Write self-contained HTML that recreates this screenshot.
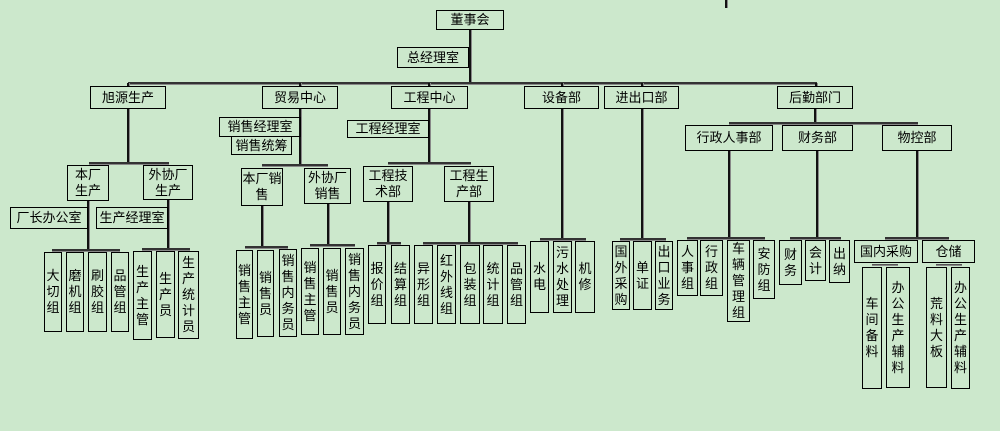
<!DOCTYPE html>
<html><head><meta charset="utf-8"><style>
body{margin:0}
#c{position:relative;width:1000px;height:431px;background:#cce8cc;overflow:hidden;font-family:"Liberation Sans","Noto Sans CJK SC","WenQuanYi Zen Hei",sans-serif;color:#000}
.b{position:absolute;border:1px solid #000;box-sizing:border-box;display:flex;align-items:center;justify-content:center;text-align:center;font-size:13px;line-height:16px;padding:0;white-space:nowrap}
.h{position:absolute;height:2px;background:#333;border-bottom:1px solid #888}
.v{position:absolute;width:2px;background:#111;border-right:1px solid #888}
</style></head><body><div id="c">
<div class="v" style="left:725px;top:0;height:8px"></div>
<div class="v" style="left:469px;top:29px;height:55px"></div>
<div class="b" style="left:436px;top:10px;width:68px;height:20px">董事会</div>
<div class="b" style="left:397px;top:47px;width:72px;height:21px">总经理室</div>
<div class="h" style="left:128px;top:82px;width:689px"></div>
<div class="v" style="left:127px;top:83px;height:4px"></div>
<div class="v" style="left:299px;top:83px;height:4px"></div>
<div class="v" style="left:428px;top:83px;height:4px"></div>
<div class="v" style="left:561px;top:83px;height:4px"></div>
<div class="v" style="left:641px;top:83px;height:4px"></div>
<div class="v" style="left:815px;top:83px;height:4px"></div>
<div class="b" style="left:90px;top:86px;width:76px;height:23px">旭源生产</div>
<div class="b" style="left:262px;top:86px;width:76px;height:23px">贸易中心</div>
<div class="b" style="left:391px;top:86px;width:77px;height:23px">工程中心</div>
<div class="b" style="left:524px;top:86px;width:75px;height:23px">设备部</div>
<div class="b" style="left:604px;top:86px;width:75px;height:23px">进出口部</div>
<div class="b" style="left:777px;top:86px;width:76px;height:23px">后勤部门</div>

<div class="v" style="left:127px;top:109px;height:55px"></div>
<div class="h" style="left:89px;top:162px;width:80px"></div>
<div class="v" style="left:87px;top:200px;height:51px"></div>
<div class="v" style="left:167px;top:199px;height:51px"></div>
<div class="b" style="left:67px;top:165px;width:42px;height:36px">本厂<br>生产</div>
<div class="b" style="left:143px;top:165px;width:50px;height:35px">外协厂<br>生产</div>
<div class="b" style="left:10px;top:207px;width:78px;height:22px">厂长办公室</div>
<div class="b" style="left:96px;top:207px;width:72px;height:22px">生产经理室</div>
<div class="h" style="left:52px;top:249px;width:68px"></div>
<div class="h" style="left:142px;top:248px;width:48px"></div>
<div class="b" style="left:44px;top:252px;width:18px;height:80px">大<br>切<br>组</div>
<div class="b" style="left:66px;top:252px;width:18px;height:80px">磨<br>机<br>组</div>
<div class="b" style="left:88px;top:252px;width:19px;height:80px">刷<br>胶<br>组</div>
<div class="b" style="left:111px;top:252px;width:18px;height:80px">品<br>管<br>组</div>
<div class="b" style="left:133px;top:251px;width:19px;height:89px">生<br>产<br>主<br>管</div>
<div class="b" style="left:156px;top:251px;width:19px;height:87px">生<br>产<br>员</div>
<div class="b" style="left:178px;top:251px;width:21px;height:88px">生<br>产<br>统<br>计<br>员</div>

<div class="v" style="left:299px;top:109px;height:57px"></div>
<div class="b" style="left:219px;top:117px;width:82px;height:20px">销售经理室</div>
<div class="b" style="left:231px;top:136px;width:61px;height:19px">销售统筹</div>
<div class="h" style="left:262px;top:164px;width:66px"></div>
<div class="v" style="left:261px;top:205px;height:44px"></div>
<div class="v" style="left:327px;top:203px;height:43px"></div>
<div class="b" style="left:241px;top:168px;width:42px;height:38px">本厂销<br>售</div>
<div class="b" style="left:304px;top:168px;width:47px;height:36px">外协厂<br>销售</div>
<div class="h" style="left:245px;top:246px;width:43px"></div>
<div class="h" style="left:310px;top:244px;width:45px"></div>
<div class="b" style="left:236px;top:250px;width:17px;height:89px">销<br>售<br>主<br>管</div>
<div class="b" style="left:257px;top:250px;width:17px;height:87px">销<br>售<br>员</div>
<div class="b" style="left:279px;top:249px;width:18px;height:88px">销<br>售<br>内<br>务<br>员</div>
<div class="b" style="left:301px;top:248px;width:18px;height:87px">销<br>售<br>主<br>管</div>
<div class="b" style="left:323px;top:248px;width:18px;height:87px">销<br>售<br>员</div>
<div class="b" style="left:345px;top:248px;width:19px;height:87px">销<br>售<br>内<br>务<br>员</div>

<div class="v" style="left:428px;top:109px;height:55px"></div>
<div class="b" style="left:347px;top:120px;width:82px;height:18px">工程经理室</div>
<div class="h" style="left:388px;top:162px;width:83px"></div>
<div class="v" style="left:387px;top:201px;height:43px"></div>
<div class="v" style="left:468px;top:201px;height:43px"></div>
<div class="b" style="left:363px;top:166px;width:50px;height:36px">工程技<br>术部</div>
<div class="b" style="left:444px;top:166px;width:50px;height:36px">工程生<br>产部</div>
<div class="h" style="left:377px;top:242px;width:24px"></div>
<div class="h" style="left:423px;top:242px;width:95px"></div>
<div class="b" style="left:368px;top:245px;width:18px;height:79px">报<br>价<br>组</div>
<div class="b" style="left:391px;top:245px;width:19px;height:79px">结<br>算<br>组</div>
<div class="b" style="left:414px;top:245px;width:19px;height:79px">异<br>形<br>组</div>
<div class="b" style="left:437px;top:245px;width:19px;height:79px">红<br>外<br>线<br>组</div>
<div class="b" style="left:460px;top:245px;width:20px;height:79px">包<br>装<br>组</div>
<div class="b" style="left:483px;top:245px;width:20px;height:79px">统<br>计<br>组</div>
<div class="b" style="left:507px;top:245px;width:19px;height:79px">品<br>管<br>组</div>

<div class="v" style="left:561px;top:109px;height:132px"></div>
<div class="h" style="left:540px;top:238px;width:46px"></div>
<div class="b" style="left:530px;top:241px;width:19px;height:72px">水<br>电</div>
<div class="b" style="left:553px;top:241px;width:19px;height:72px">污<br>水<br>处<br>理</div>
<div class="b" style="left:575px;top:241px;width:20px;height:72px">机<br>修</div>

<div class="v" style="left:641px;top:109px;height:132px"></div>
<div class="h" style="left:620px;top:238px;width:46px"></div>
<div class="b" style="left:612px;top:241px;width:18px;height:69px">国<br>外<br>采<br>购</div>
<div class="b" style="left:633px;top:241px;width:19px;height:69px">单<br>证</div>
<div class="b" style="left:655px;top:241px;width:18px;height:69px">出<br>口<br>业<br>务</div>

<div class="v" style="left:814px;top:109px;height:15px"></div>
<div class="h" style="left:729px;top:122px;width:189px"></div>
<div class="b" style="left:685px;top:125px;width:88px;height:26px">行政人事部</div>
<div class="b" style="left:782px;top:125px;width:71px;height:26px">财务部</div>
<div class="b" style="left:882px;top:125px;width:70px;height:26px">物控部</div>
<div class="v" style="left:728px;top:151px;height:89px"></div>
<div class="v" style="left:816px;top:151px;height:89px"></div>
<div class="v" style="left:916px;top:151px;height:89px"></div>
<div class="h" style="left:687px;top:237px;width:78px"></div>
<div class="h" style="left:790px;top:237px;width:51px"></div>
<div class="h" style="left:885px;top:237px;width:64px"></div>
<div class="b" style="left:677px;top:240px;width:21px;height:56px">人<br>事<br>组</div>
<div class="b" style="left:700px;top:240px;width:23px;height:56px">行<br>政<br>组</div>
<div class="b" style="left:727px;top:240px;width:23px;height:82px">车<br>辆<br>管<br>理<br>组</div>
<div class="b" style="left:753px;top:240px;width:22px;height:59px">安<br>防<br>组</div>
<div class="b" style="left:779px;top:240px;width:23px;height:45px">财<br>务</div>
<div class="b" style="left:805px;top:240px;width:21px;height:41px">会<br>计</div>
<div class="b" style="left:829px;top:240px;width:21px;height:43px">出<br>纳</div>
<div class="b" style="left:854px;top:240px;width:64px;height:23px">国内采购</div>
<div class="b" style="left:922px;top:240px;width:53px;height:23px">仓储</div>
<div class="h" style="left:872px;top:264px;width:26px;height:1px;background:#555"></div>
<div class="h" style="left:936px;top:264px;width:26px;height:1px;background:#555"></div>
<div class="b" style="left:862px;top:267px;width:20px;height:122px">车<br>间<br>备<br>料</div>
<div class="b" style="left:886px;top:267px;width:24px;height:121px">办<br>公<br>生<br>产<br>辅<br>料</div>
<div class="b" style="left:926px;top:267px;width:21px;height:121px">荒<br>料<br>大<br>板</div>
<div class="b" style="left:951px;top:267px;width:19px;height:122px">办<br>公<br>生<br>产<br>辅<br>料</div>
</div></body></html>
